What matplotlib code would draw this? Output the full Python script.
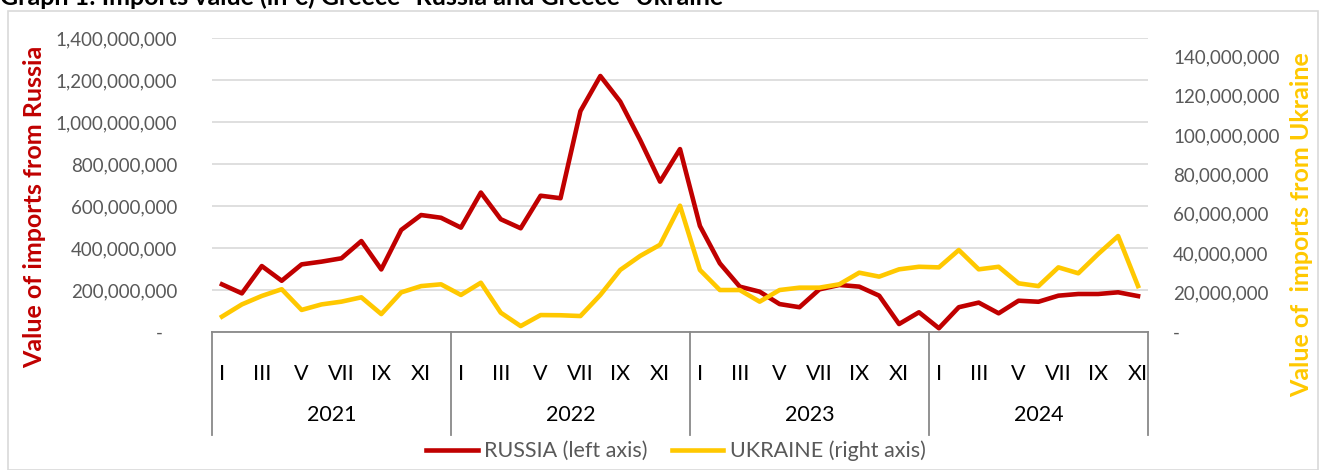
"""Imports value Greece-Russia / Greece-Ukraine, monthly 2021-2024
red line on left axis, gold line on right axis"""

import matplotlib
matplotlib.use("Agg")
import matplotlib.pyplot as plt
import matplotlib.patches as patches
import matplotlib.transforms as mtrans
import numpy as np

plt.rcParams['font.family'] = ['Lato', 'DejaVu Sans']

years = ['2021', '2022', '2023', '2024']
months_per_year = [12, 12, 12, 11]
month_names = ['I', 'II', 'III', 'IV', 'V', 'VI', 'VII', 'VIII', 'IX', 'X', 'XI', 'XII']

# values (euro)
russia = [227e6, 184e6, 314e6, 244e6, 322e6, 335e6, 351e6, 433e6, 298e6, 486e6, 557e6, 544e6,
          497e6, 664e6, 537e6, 494e6, 649e6, 637e6, 1052e6, 1219e6, 1097e6, 914e6, 716e6, 871e6,
          505e6, 327e6, 216e6, 192e6, 133e6, 118e6, 203e6, 224e6, 216e6, 173e6, 38e6, 94e6,
          18e6, 118e6, 140e6, 89e6, 149e6, 144e6, 173e6, 181e6, 181e6, 189e6, 171e6]
ukraine = [7.8e6, 14.0e6, 18.3e6, 21.7e6, 11.2e6, 14.0e6, 15.4e6, 17.6e6, 9.1e6, 20.1e6, 23.3e6, 24.2e6,
           18.8e6, 25.0e6, 9.8e6, 3.0e6, 8.6e6, 8.5e6, 8.1e6, 18.8e6, 31.5e6, 38.6e6, 44.3e6, 64.1e6,
           31.5e6, 21.3e6, 21.3e6, 15.4e6, 21.3e6, 22.5e6, 22.5e6, 24.2e6, 30.1e6, 28.1e6, 31.8e6, 33.1e6,
           32.8e6, 41.6e6, 31.8e6, 33.1e6, 24.7e6, 23.3e6, 32.8e6, 29.8e6, 39.6e6, 48.7e6, 23.3e6]

RED = '#C00000'
GOLD = '#FFC800'
GREY_TXT = '#595959'

x = np.arange(len(russia))

fig = plt.figure(figsize=(13.2, 4.7), dpi=100)

# outer chart frame
fig.patches.append(patches.Rectangle((8 / 1320, 0), 1310 / 1320, 459 / 470,
                                     transform=fig.transFigure, fill=False,
                                     edgecolor='#D9D9D9', linewidth=1.2))

fig.text(0.0, 1 - 5 / 470, 'Graph 1: Imports value (in €) Greece- Russia and Greece- Ukraine',
         fontsize=18, fontweight='bold', va='baseline', ha='left')

ax = fig.add_axes([212 / 1320, 138 / 470, 936 / 1320, 294 / 470])
ax2 = ax.twinx()

ax.plot(x, russia, color=RED, linewidth=3.3, solid_joinstyle='round', label='RUSSIA (left axis)')
ax2.plot(x, ukraine, color=GOLD, linewidth=3.3, solid_joinstyle='round', label='UKRAINE (right axis)')

ax.set_xlim(-0.5, len(russia) - 0.5)
ax.set_ylim(0, 1.4e9)
ax2.set_ylim(0, 149.2e6)

ax.set_yticks(np.arange(0, 1.4e9 + 1, 2e8))
ax.set_yticklabels(['-   '] + ['{:,.0f}'.format(v) for v in np.arange(2e8, 1.4e9 + 1, 2e8)])
ax2.set_yticks(np.arange(0, 140e6 + 1, 20e6))
ax2.set_yticklabels(['-'] + ['{:,.0f}'.format(v) for v in np.arange(20e6, 140e6 + 1, 20e6)])

ax.tick_params(axis='y', length=0, pad=25, labelsize=13.5, labelcolor=GREY_TXT)
ax2.tick_params(axis='y', length=0, pad=18, labelsize=13.5, labelcolor=GREY_TXT)
ax.yaxis.grid(True, color='#D9D9D9', linewidth=1.2)
ax.set_axisbelow(True)

for a in (ax, ax2):
    for s in ('left', 'right', 'top'):
        a.spines[s].set_visible(False)
ax.spines['bottom'].set_color('#898989')
ax.spines['bottom'].set_linewidth(1.3)
ax2.spines['bottom'].set_visible(False)

# month labels, every second month
ticks, labels = [], []
i = 0
for n in months_per_year:
    for m in range(n):
        if m % 2 == 0:
            ticks.append(i)
            labels.append(month_names[m])
        i += 1
ax.set_xticks(ticks)
ax.set_xticklabels(labels)
ax.tick_params(axis='x', length=0, pad=23, labelsize=15.5, labelcolor='black')

# year groups and separators
trans = mtrans.blended_transform_factory(ax.transData, ax.transAxes)
start = -0.5
for yr, n in zip(years, months_per_year):
    ax.plot([start, start], [0, -0.35], transform=trans, color='#898989',
            linewidth=1.3, clip_on=False)
    ax.text(start + n / 2, -0.282, yr, transform=trans, ha='center', va='center',
            fontsize=15.5, color='black')
    start += n
ax.plot([start, start], [0, -0.35], transform=trans, color='#898989',
        linewidth=1.3, clip_on=False)

# axis titles
fig.text(35 / 1320, 1 - 207 / 470, 'Value of imports from Russia', color=RED,
         fontweight='bold', fontsize=18, rotation=90, ha='center', va='center',
         rotation_mode='anchor')
fig.text(1302 / 1320, 1 - 225 / 470, 'Value of  imports from Ukraine', color=GOLD,
         fontweight='bold', fontsize=18, rotation=90, ha='center', va='center',
         rotation_mode='anchor')

h1, l1 = ax.get_legend_handles_labels()
h2, l2 = ax2.get_legend_handles_labels()
leg = fig.legend(h1 + h2, l1 + l2, loc='center', bbox_to_anchor=(676 / 1320, 1 - 451 / 470),
                 ncol=2, frameon=False, fontsize=15.5, handlelength=2.4, handletextpad=0.3,
                 columnspacing=1.1)
for t in leg.get_texts():
    t.set_color(GREY_TXT)

fig.savefig('out.png', dpi=100)
